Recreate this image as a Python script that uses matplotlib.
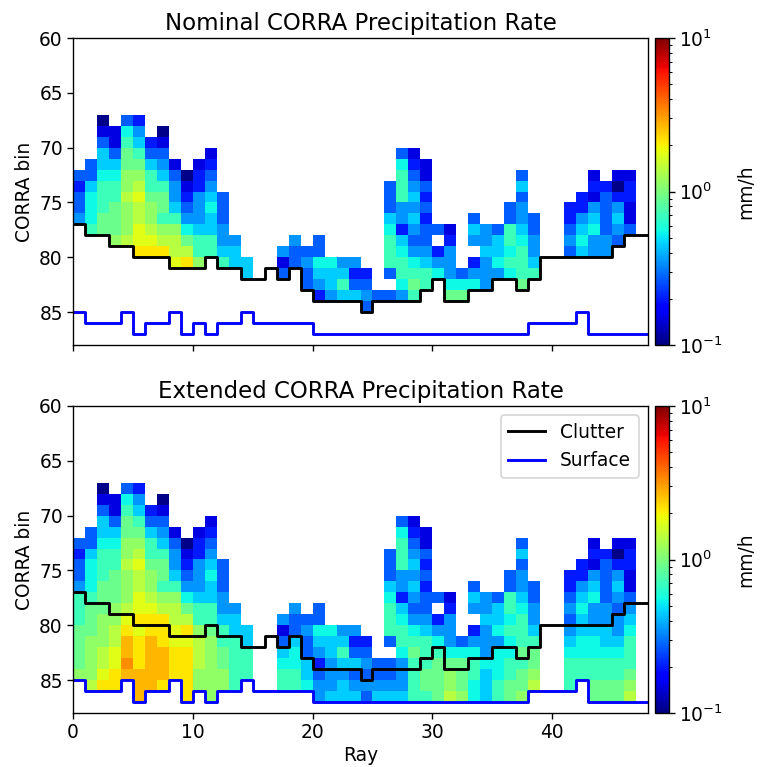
import numpy as np
import matplotlib
matplotlib.use('Agg')
import matplotlib.pyplot as plt
from matplotlib.colors import LogNorm

# ---------------- data ----------------
ray_edges = np.arange(49)
bin_edges = np.arange(60, 89)

clutter = [77, 78, 78, 79, 79, 80, 80, 80, 81, 81, 81, 80, 81, 81, 82, 82,
           81, 82, 81, 83, 84, 84, 84, 84, 85, 84, 84, 84, 84, 83, 82, 84,
           84, 83, 83, 82, 82, 83, 82, 80, 80, 80, 80, 80, 80, 79, 78, 78]

surface = [85, 86, 86, 86, 85, 87, 86, 86, 85, 87, 86, 87, 86, 86, 85, 86,
           86, 86, 86, 86, 87, 87, 87, 87, 87, 87, 87, 87, 87, 87, 87, 87,
           87, 87, 87, 87, 87, 87, 86, 86, 86, 86, 85, 87, 87, 87, 87, 87]

# precipitation rate level (mm/h)
rate_levels = {'a': 0.105, 'b': 0.15, 'c': 0.2, 'd': 0.27, 'e': 0.35,
               'f': 0.45, 'g': 0.55, 'h': 0.7, 'i': 0.9, 'j': 1.12,
               'k': 1.4, 'l': 1.75, 'm': 2.15, 'n': 2.7, 'o': 3.3}

# one string per ray, characters for bins 60..87 ('.' = no data)
rate_codes = [
    "............dcddehhhiiiij...",
    "...........ddfggghiiijjjjk..",
    ".......abdffghhhiiijjjkklm..",
    "........bbdfghhiiijjkkllmm..",
    ".......dghiijjkjjjklmnnon...",
    ".......cefhijklkkllmlmmmnnn.",
    ".........cdfhhijjklmmnnnnn..",
    "........abdefhiihjkmmmnnnm..",
    "...........bdeefhjkkllmmm...",
    "............abcdegikmlmmmmm.",
    "...........bcceeefhhjkkkjj..",
    "..........bcdefgffhhijjjjjj.",
    "..............dddeefhhiijj..",
    "..................effhhhhh..",
    "....................ffhhh...",
    "............................",
    "............................",
    "...................ebdfghh..",
    "..................eddfgghh..",
    "...................deddffg..",
    "..................ddgfecdee.",
    "....................gffeeef.",
    "....................efhfeff.",
    "....................ecdfdef.",
    ".....................cdeded.",
    ".......................ddef.",
    ".............dddfghhhd.ddef.",
    "..........dghhheecfghhgeeef.",
    "..........bcdefefedeghihhhh.",
    "...........bbdcdcddefhhhiih.",
    ".................d.ceghiiii.",
    ".................bceeegijjk.",
    ".....................dgiiij.",
    "................dfe.ceghhgg.",
    ".................eefeeegfff.",
    ".................dffgeggghh.",
    "...............ddhhghgghhii.",
    "............dfdeefghhhihiij.",
    "................ddeefhiijk..",
    "............................",
    "............................",
    "...............ccdedefghhh..",
    "..............ccefgffgghh...",
    "............bcbefgeefgghhii.",
    ".............cddddeeffghhii.",
    "............bacefedeefghhii.",
    "............bccbbdefghhhijk.",
    "............................",
]

yticks = [60, 65, 70, 75, 80, 85]
xticks = [0, 10, 20, 30, 40]

# ---------------- build grids ----------------
rate = np.full((len(bin_edges) - 1, len(ray_edges) - 1), np.nan)
for i, col in enumerate(rate_codes):
    for k, ch in enumerate(col):
        if ch != '.':
            rate[k, i] = rate_levels[ch]
extended = np.ma.masked_invalid(rate)
bin_idx = bin_edges[:-1][:, None]
nominal = np.ma.masked_where(bin_idx >= np.array(clutter)[None, :], extended)

clutter_line = clutter + [clutter[-1]]
surface_line = surface + [surface[-1]]

# ---------------- plot ----------------
plt.rcParams['font.size'] = 11
plt.rcParams['xtick.major.pad'] = 2.5
plt.rcParams['ytick.major.pad'] = 2.5
dpi = 122
fig = plt.figure(figsize=(781 / dpi, 767 / dpi), dpi=dpi)
W, H = 781.0, 767.0

def rect(x0, y0, x1, y1):
    return [x0 / W, 1 - y1 / H, (x1 - x0) / W, (y1 - y0) / H]

ax1 = fig.add_axes(rect(73, 38, 648, 345))
cax1 = fig.add_axes(rect(655, 38, 669, 345))
ax2 = fig.add_axes(rect(73, 406, 648, 713))
cax2 = fig.add_axes(rect(655, 406, 669, 713))

norm = LogNorm(vmin=0.1, vmax=10)
for ax, cax, data, title in [(ax1, cax1, nominal, 'Nominal CORRA Precipitation Rate'),
                             (ax2, cax2, extended, 'Extended CORRA Precipitation Rate')]:
    pcm = ax.pcolormesh(ray_edges, bin_edges, data, cmap='jet', norm=norm)
    ax.step(ray_edges, clutter_line, where='post', color='black', lw=1.7, label='Clutter')
    ax.step(ray_edges, surface_line, where='post', color='blue', lw=1.7, label='Surface')
    ax.set_xlim(0, 48)
    ax.set_ylim(88, 60)
    ax.set_yticks(yticks)
    ax.set_xticks(xticks)
    ax.set_ylabel('CORRA bin', labelpad=3)
    ax.set_title(title, fontsize=13.5, pad=5)
    cb = fig.colorbar(pcm, cax=cax)
    cb.set_label('mm/h', labelpad=8)

ax1.set_xticklabels([])
ax2.set_xlabel('Ray', labelpad=2)
ax2.legend(loc='upper right')

fig.savefig('out.png', dpi=dpi)
